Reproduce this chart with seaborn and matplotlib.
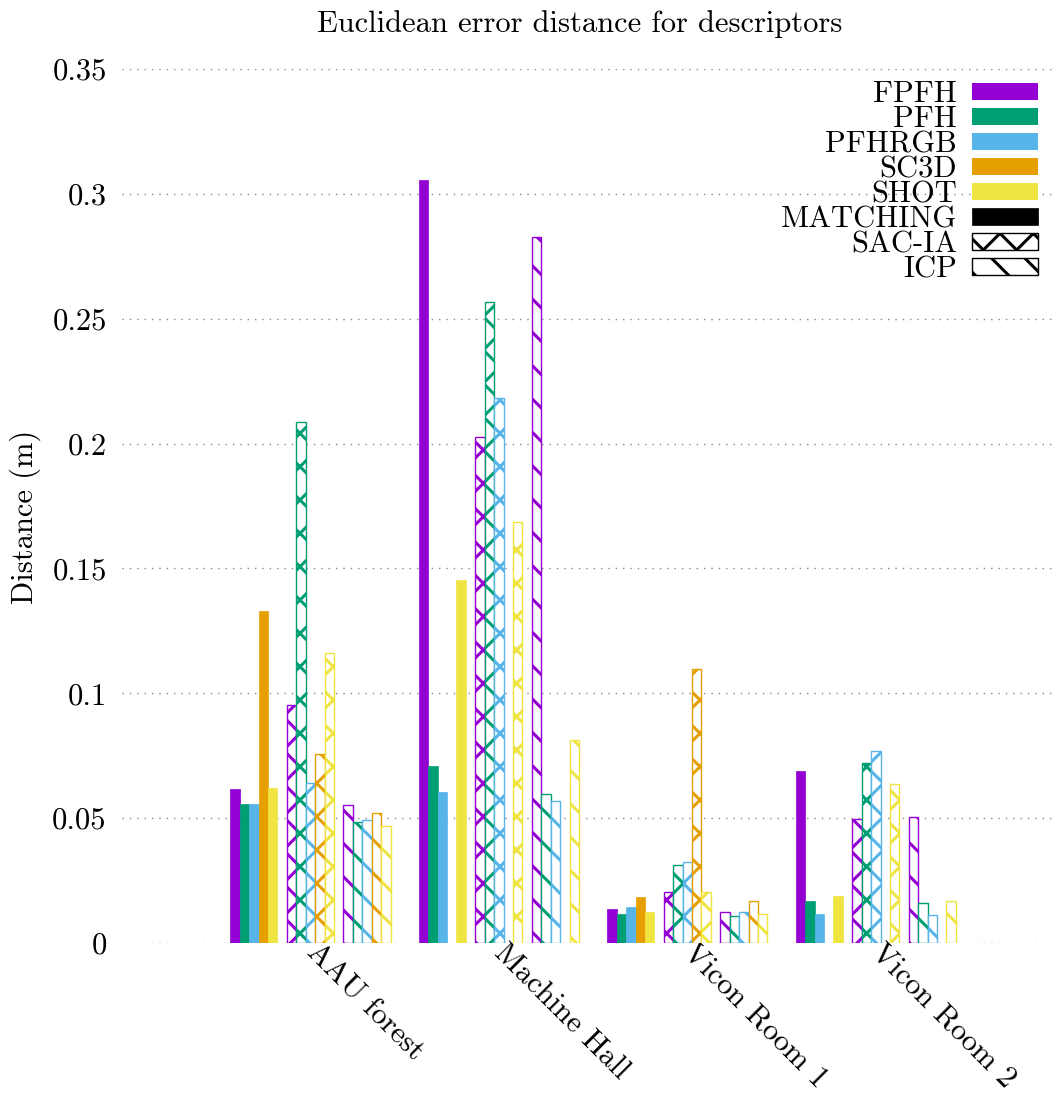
import numpy as np
import pandas as pd
import matplotlib
matplotlib.use("Agg")
import matplotlib.pyplot as plt
import seaborn as sns
from matplotlib.patches import Patch
from matplotlib.ticker import FixedLocator, FixedFormatter

# ---------------- data ----------------
scenes = ["AAU forest", "Machine Hall", "Vicon Room 1", "Vicon Room 2"]
descriptors = ["FPFH", "PFH", "PFHRGB", "SC3D", "SHOT"]
methods = ["MATCHING", "SAC-IA", "ICP"]
colors = ["#9400D3", "#009E73", "#56B4E9", "#E69F00", "#F0E442"]

# MATCHING
matching_fpfh = [0.0618, 0.3057, 0.0136, 0.0690]
matching_pfh = [0.0556, 0.0707, 0.0117, 0.0168]
matching_pfhrgb = [0.0556, 0.0604, 0.0143, 0.0115]
matching_sc3d = [0.1330, None, 0.0183, None]
matching_shot = [0.0622, 0.1453, 0.0125, 0.0190]
# SAC-IA
sacia_fpfh = [0.0952, 0.2028, 0.0204, 0.0496]
sacia_pfh = [0.2087, 0.2566, 0.0313, 0.0722]
sacia_pfhrgb = [0.0639, 0.2184, 0.0325, 0.0770]
sacia_sc3d = [0.0756, None, 0.1096, None]
sacia_shot = [0.1163, 0.1685, 0.0204, 0.0638]
# ICP
icp_fpfh = [0.0552, 0.2826, 0.0123, 0.0504]
icp_pfh = [0.0486, 0.0598, 0.0108, 0.0160]
icp_pfhrgb = [0.0493, 0.0570, 0.0125, 0.0112]
icp_sc3d = [0.0520, None, 0.0169, None]
icp_shot = [0.0468, 0.0814, 0.0116, 0.0168]

yticks = [0, 0.05, 0.1, 0.15, 0.2, 0.25, 0.3, 0.35]
ytick_labels = ["0", "0.05", "0.1", "0.15", "0.2", "0.25", "0.3", "0.35"]

series_values = {
    ("MATCHING", "FPFH"): matching_fpfh, ("MATCHING", "PFH"): matching_pfh,
    ("MATCHING", "PFHRGB"): matching_pfhrgb, ("MATCHING", "SC3D"): matching_sc3d,
    ("MATCHING", "SHOT"): matching_shot,
    ("SAC-IA", "FPFH"): sacia_fpfh, ("SAC-IA", "PFH"): sacia_pfh,
    ("SAC-IA", "PFHRGB"): sacia_pfhrgb, ("SAC-IA", "SC3D"): sacia_sc3d,
    ("SAC-IA", "SHOT"): sacia_shot,
    ("ICP", "FPFH"): icp_fpfh, ("ICP", "PFH"): icp_pfh,
    ("ICP", "PFHRGB"): icp_pfhrgb, ("ICP", "SC3D"): icp_sc3d,
    ("ICP", "SHOT"): icp_shot,
}

rows = []
for (m, d), vals in series_values.items():
    for s, v in zip(scenes, vals):
        if v is not None:
            rows.append({"scene": s, "series": f"{m}|{d}", "value": v})
df = pd.DataFrame(rows)

# hue levels with empty spacer slots between method groups
levels = []
for i, m in enumerate(methods):
    levels += [f"{m}|{d}" for d in descriptors]
    if i < len(methods) - 1:
        levels.append(f"gap{i}")
temp_pal = {lv: (i / 20.0, 0.3, 0.6) for i, lv in enumerate(levels)}

# ---------------- style ----------------
plt.rcParams["font.family"] = ["cmr10", "DejaVu Serif"]
plt.rcParams["axes.formatter.use_mathtext"] = True
plt.rcParams["axes.unicode_minus"] = False
plt.rcParams["hatch.linewidth"] = 2.2

FS = 22

fig = plt.figure(figsize=(10.55, 10.99), dpi=100)
W, H = 1055, 1099
ax = fig.add_axes([122 / W, 156 / H, (1052 - 122) / W, (943 - 69) / H])

sns.barplot(data=df, x="scene", y="value", hue="series", order=scenes,
            hue_order=levels, palette=temp_pal, width=0.85, dodge=True,
            errorbar=None, legend=False, saturation=1, ax=ax)

# restyle bars according to their series
for p in ax.patches:
    r = p.get_facecolor()[0]
    idx = int(round(r * 20))
    lv = levels[idx]
    if lv.startswith("gap"):
        continue
    m, d = lv.split("|")
    c = colors[descriptors.index(d)]
    if m == "MATCHING":
        p.set_facecolor(c)
        p.set_edgecolor(c)
        p.set_linewidth(0.5)
        p.set_hatch(None)
    else:
        p.set_facecolor("white")
        p.set_edgecolor(c)
        p.set_linewidth(1.0)
        p.set_hatch("x" if m == "SAC-IA" else "\\")

ax.set_xlim(-1, 3.935)
ax.set_ylim(0, 0.35)
ax.yaxis.set_major_locator(FixedLocator(yticks))
ax.yaxis.set_major_formatter(FixedFormatter(ytick_labels))
ax.yaxis.grid(True, linestyle=(0, (1, 4.3)), color="#888888", linewidth=1.0)
ax.xaxis.grid(False)
ax.set_axisbelow(True)
for sp in ax.spines.values():
    sp.set_visible(False)
ax.tick_params(axis="both", length=0, labelsize=FS)
ax.tick_params(axis="y", pad=11)
ax.tick_params(axis="x", pad=4)
for t in ax.get_xticklabels():
    t.set_rotation(-45)
    t.set_ha("left")
    t.set_va("center")
    t.set_rotation_mode("anchor")

ax.set_xlabel("")
ax.set_ylabel("Distance (m)", fontsize=FS)
ax.yaxis.set_label_coords(-0.104, 0.487)
ax.yaxis.label.set_verticalalignment("center")

fig.text(580 / W, 1 - 32 / H, "Euclidean error distance for descriptors",
         ha="center", va="baseline", fontsize=FS)

# legend (text right-aligned, swatch on the right)
handles = [Patch(facecolor=c, edgecolor=c, linewidth=0) for c in colors]
handles += [Patch(facecolor="black", edgecolor="black", linewidth=0.5),
            Patch(facecolor="white", edgecolor="black", hatch="x", linewidth=1),
            Patch(facecolor="white", edgecolor="black", hatch="\\", linewidth=1)]
labels = descriptors + methods
leg = ax.legend(handles, labels, loc="upper right",
                bbox_to_anchor=(1038 / W, 1 - 81 / H),
                bbox_transform=fig.transFigure, frameon=False,
                markerfirst=False, fontsize=FS, handlelength=2.16,
                handleheight=0.46, handletextpad=0.49, labelspacing=-0.08,
                borderpad=0, borderaxespad=0)

fig.savefig("out.png", dpi=100, facecolor="white")
